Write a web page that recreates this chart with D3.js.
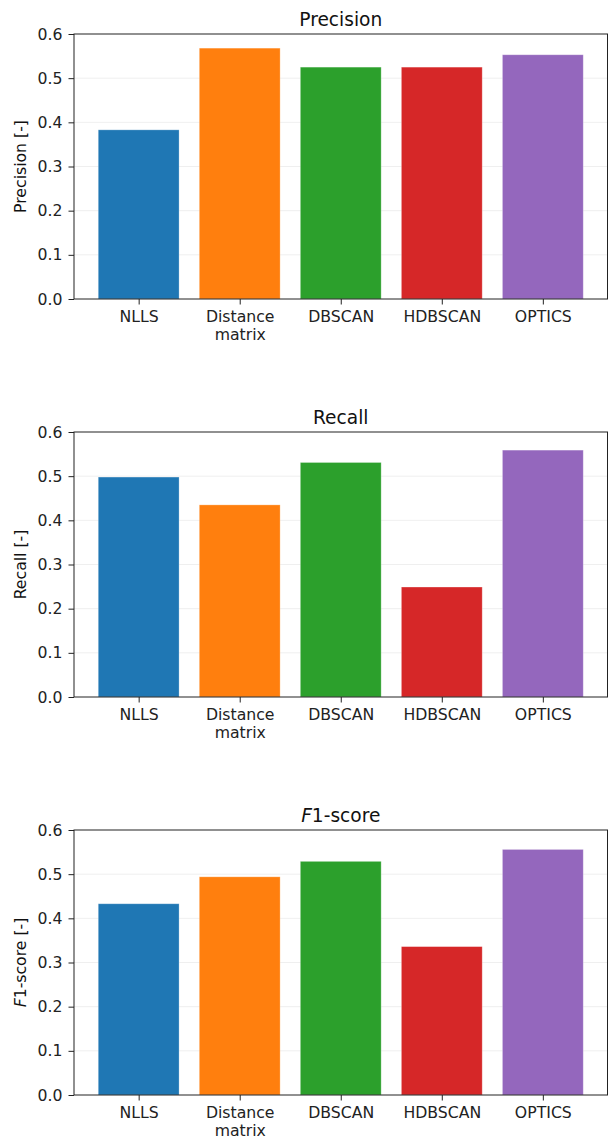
<!DOCTYPE html>
<html>
<head>
<meta charset="utf-8">
<script src="https://cdn.jsdelivr.net/npm/d3@7"></script>
<style>
  html, body { margin: 0; padding: 0; background: #fff; }
  svg { display: block; font-family: "DejaVu Sans", sans-serif; }
</style>
</head>
<body>
<svg id="chart" width="613" height="1140"></svg>
<script>
// Clustering method comparison: precision, recall and F1-score
const methods = ["NLLS", "Distance\nmatrix", "DBSCAN", "HDBSCAN", "OPTICS"];
const colors = ["#1f77b4", "#ff7f0e", "#2ca02c", "#d62728", "#9467bd"];
const precision = [0.383, 0.568, 0.525, 0.525, 0.553];
const recall = [0.498, 0.435, 0.531, 0.249, 0.559];
const f1score = [0.433, 0.494, 0.529, 0.336, 0.556];
const yTicks = [0.0, 0.1, 0.2, 0.3, 0.4, 0.5, 0.6];

const panels = [
  { title: [["Precision", false]], ylabel: [["Precision [-]", false]], values: precision },
  { title: [["Recall", false]], ylabel: [["Recall [-]", false]], values: recall },
  { title: [["F", true], ["1-score", false]], ylabel: [["F", true], ["1-score [-]", false]], values: f1score }
];

const svg = d3.select("#chart");
const left = 74, right = 607.5, plotH = 265, firstTop = 34, step = 398;
const tickFont = 15.7, titleFont = 18.6;

function richText(sel, parts) {
  parts.forEach(([txt, italic]) => {
    sel.append("tspan").text(txt).attr("font-style", italic ? "italic" : "normal");
  });
}

panels.forEach((p, i) => {
  const top = firstTop + i * step;
  const bottom = top + plotH;
  const x = d3.scaleLinear().domain([-0.64, 4.64]).range([left, right]);
  const y = d3.scaleLinear().domain([0, 0.6]).range([bottom, top]);
  const g = svg.append("g");

  // horizontal grid
  g.append("g").selectAll("line").data(yTicks.slice(1, -1)).join("line")
    .attr("x1", left).attr("x2", right)
    .attr("y1", d => y(d)).attr("y2", d => y(d))
    .attr("stroke", "#ebebeb").attr("stroke-width", 0.8);

  // bars
  g.append("g").selectAll("rect").data(p.values).join("rect")
    .attr("x", (d, j) => x(j - 0.4))
    .attr("width", x(0.8) - x(0))
    .attr("y", d => y(d))
    .attr("height", d => y(0) - y(d))
    .attr("fill", (d, j) => colors[j])
    .attr("stroke", "rgba(255,255,255,0.35)")
    .attr("stroke-width", 0.8);

  // frame
  g.append("rect")
    .attr("x", left).attr("y", top)
    .attr("width", right - left).attr("height", plotH)
    .attr("fill", "none").attr("stroke", "#222").attr("stroke-width", 1);

  // y axis
  const yAxis = d3.axisLeft(y).tickValues(yTicks).tickFormat(d3.format(".1f"))
    .tickSize(5.5).tickPadding(6);
  const ya = g.append("g").attr("transform", `translate(${left},0)`).call(yAxis);
  ya.select(".domain").remove();
  ya.selectAll(".tick line").attr("stroke", "#222");
  ya.selectAll(".tick text").attr("font-size", tickFont).attr("fill", "#222")
    .attr("font-family", "DejaVu Sans");

  // x axis
  const xAxis = d3.axisBottom(x).tickValues(d3.range(methods.length))
    .tickFormat(j => methods[j]).tickSize(5.5).tickPadding(6);
  const xa = g.append("g").attr("transform", `translate(0,${bottom})`).call(xAxis);
  xa.select(".domain").remove();
  xa.selectAll(".tick line").attr("stroke", "#222");
  xa.selectAll(".tick text").attr("font-size", tickFont).attr("fill", "#222")
    .attr("font-family", "DejaVu Sans")
    .each(function(j) {
      const t = d3.select(this);
      const lines = methods[j].split("\n");
      t.text(null);
      lines.forEach((ln, k) => {
        t.append("tspan").attr("x", 0).attr("dy", k === 0 ? "0.73em" : "1.13em").text(ln);
      });
    })
    .attr("dy", null);

  // title
  const tt = g.append("text")
    .attr("x", (left + right) / 2).attr("y", top - 8)
    .attr("text-anchor", "middle").attr("font-size", titleFont).attr("fill", "#111");
  richText(tt, p.title);

  // y label
  const yl = g.append("text")
    .attr("transform", `translate(26,${(top + bottom) / 2}) rotate(-90)`)
    .attr("text-anchor", "middle").attr("font-size", tickFont).attr("fill", "#111");
  richText(yl, p.ylabel);
});
</script>
</body>
</html>
